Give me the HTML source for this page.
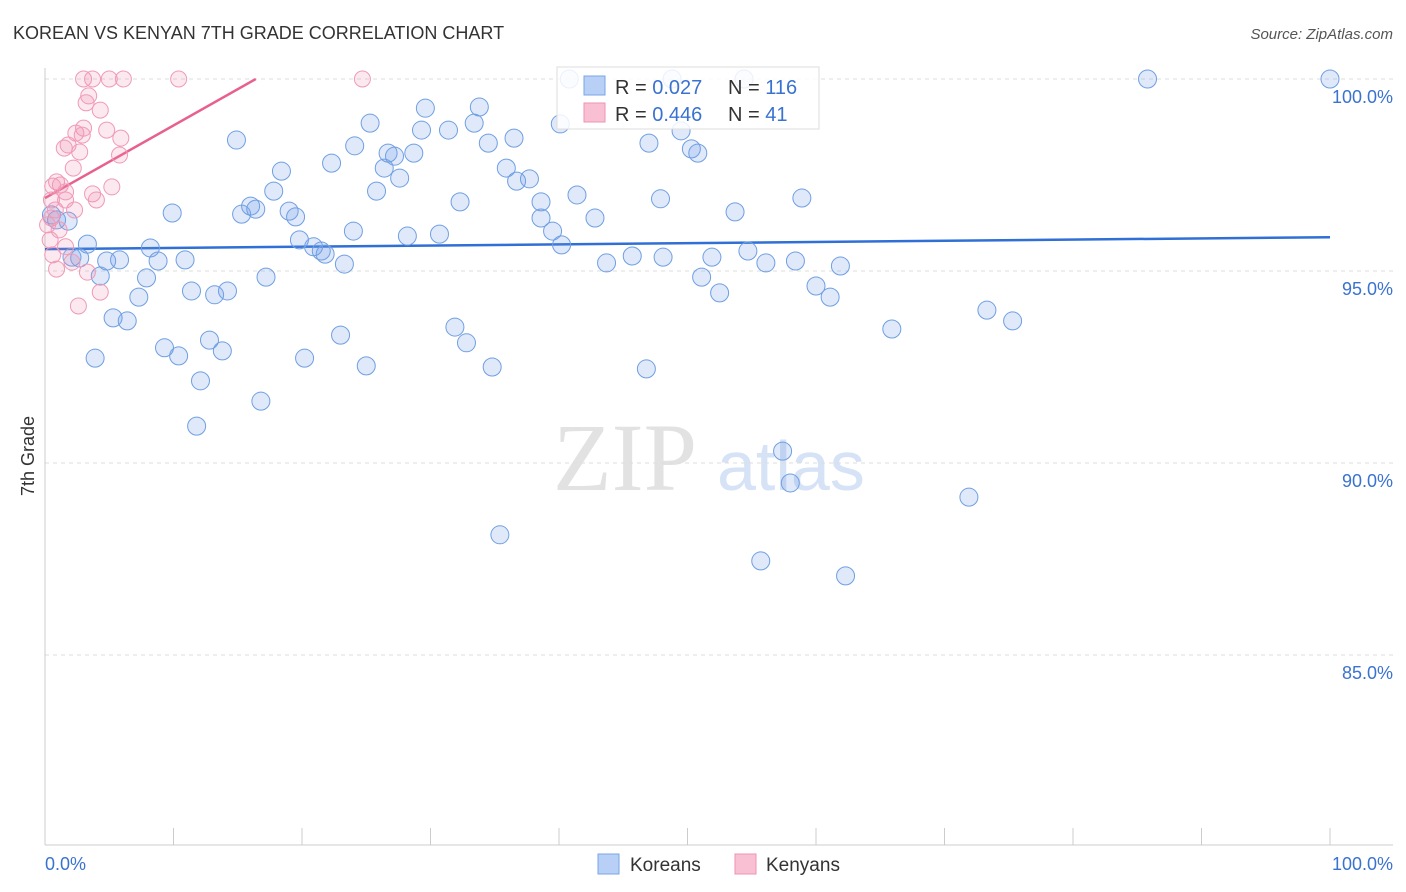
<!DOCTYPE html>
<html><head><meta charset="utf-8"><style>
body{margin:0;background:#fff;font-family:"Liberation Sans",sans-serif;}
svg{display:block}
</style></head><body>
<svg id="chart" width="1406" height="892">
<text x="13" y="39" font-size="18" fill="#333">KOREAN VS KENYAN 7TH GRADE CORRELATION CHART</text>
<text x="1393" y="39" font-size="15" fill="#555" font-style="italic" text-anchor="end">Source: ZipAtlas.com</text>
<g>
<text x="553" y="490" font-size="96" font-family="Liberation Serif,serif" fill="#e2e2e2">ZIP</text>
<text x="717" y="490" font-size="70" fill="#d6e2f5">atlas</text>
</g>
<g id="grid"></g><g id="axes"></g><g id="trends"></g><g id="points"></g>
<g>
<rect x="557" y="67" width="262" height="62" fill="#fff" fill-opacity="0.85" stroke="#ddd"/>
<rect x="584" y="76" width="21" height="19" fill="#b8d0f5" stroke="#7aa4e6"/>
<rect x="584" y="103" width="21" height="19" fill="#f8c0d2" stroke="#ee93b2"/>
<text x="615" y="94" font-size="20" fill="#333">R = <tspan fill="#3a72d0">0.027</tspan></text>
<text x="728" y="94" font-size="20" fill="#333">N = <tspan fill="#3a72d0">116</tspan></text>
<text x="615" y="121" font-size="20" fill="#333">R = <tspan fill="#3a72d0">0.446</tspan></text>
<text x="728" y="121" font-size="20" fill="#333">N = <tspan fill="#3a72d0"> 41</tspan></text>
</g>
<g>
<rect x="598" y="854" width="21" height="20" fill="#b8d0f5" stroke="#7aa4e6"/>
<text x="630" y="871" font-size="19" fill="#333">Koreans</text>
<rect x="735" y="854" width="21" height="20" fill="#f8c0d2" stroke="#ee93b2"/>
<text x="766" y="871" font-size="19" fill="#333">Kenyans</text>
</g>
<text x="34" y="456" font-size="18" fill="#333" text-anchor="middle" transform="rotate(-90 34 456)">7th Grade</text>
</svg>
<script>
const blueX=[100,85.8,54.4,48.8,40.8,14.9,29.6,33.8,25.3,33.4,29.3,31.4,40.1,36.5,34.5,24.1,26.7,27.2,28.7,22.3,18.4,26.4,35.9,27.6,36.7,37.7,25.8,17.8,32.3,41.4,38.6,38.6,42.8,16.0,16.4,15.3,9.9,19.0,19.5,39.5,24.0,28.2,30.7,19.8,20.9,21.5,21.8,40.2,1.8,0.9,0.5,3.3,8.2,2.7,2.1,4.8,5.8,8.8,10.9,23.3,17.2,7.9,4.3,11.4,7.3,13.2,14.2,5.3,6.4,9.3,10.4,3.9,12.8,13.8,20.2,23.0,25.0,31.9,32.8,34.8,12.1,16.8,11.8,49.5,47.0,50.3,50.8,47.9,53.7,58.9,43.7,45.7,48.1,51.9,54.7,56.1,58.4,61.9,51.1,52.5,60.0,61.1,65.9,73.3,75.3,46.8,57.4,58.0,71.9,35.4,55.7,62.3];
const blueY=[100,100,100,100,100,98.41,99.24,99.27,98.85,98.85,98.67,98.67,98.83,98.46,98.33,98.26,98.07,97.99,98.07,97.81,97.60,97.68,97.68,97.42,97.34,97.40,97.08,97.08,96.80,96.98,96.80,96.38,96.38,96.69,96.61,96.48,96.51,96.56,96.41,96.04,96.04,95.91,95.96,95.81,95.63,95.52,95.44,95.68,96.30,96.33,96.46,95.70,95.60,95.34,95.36,95.26,95.29,95.26,95.29,95.18,94.84,94.82,94.87,94.48,94.32,94.38,94.48,93.78,93.70,93.00,92.79,92.73,93.20,92.92,92.73,93.33,92.53,93.54,93.13,92.50,92.14,91.61,90.96,98.65,98.33,98.18,98.07,96.88,96.54,96.90,95.21,95.39,95.36,95.36,95.52,95.21,95.26,95.13,94.84,94.43,94.61,94.32,93.49,93.98,93.70,92.45,90.31,89.48,89.11,88.13,87.45,87.06];
const pinkX=[3.0,3.7,5.0,6.1,10.4,24.7,3.4,3.2,4.3,3.0,4.8,2.4,2.9,5.9,1.8,1.5,2.7,5.8,2.2,0.9,1.2,0.6,1.6,5.2,3.7,4.0,2.3,0.5,1.1,0.4,1.6,0.6,2.1,0.9,3.3,4.3,2.6,0.5,0.2,0.8,1.6];
const pinkY=[100,100,100,100,100,100,99.56,99.38,99.19,98.72,98.67,98.59,98.54,98.46,98.28,98.20,98.10,98.02,97.68,97.32,97.24,97.21,97.06,97.19,97.01,96.85,96.59,96.38,96.07,95.81,95.63,95.42,95.23,95.05,94.97,94.45,94.09,96.85,96.20,96.59,96.85];
const blueTrend=[95.57,95.88];
const pinkTrend=[96.90,0.189];
const yTicks=[100,95,90,85];
const yTickLabels=["100.0%","95.0%","90.0%","85.0%"];
const xTicks=[0,10,20,30,40,50,60,70,80,90,100];
const xTickLabels=["0.0%","100.0%"];
const NS="http://www.w3.org/2000/svg";
const sx=v=>45+v*12.85, sy=v=>79+(100-v)*38.4;
function mk(tag,attrs,parent){const e=document.createElementNS(NS,tag);for(const k in attrs)e.setAttribute(k,attrs[k]);parent.appendChild(e);return e;}
const grid=document.getElementById('grid'),axes=document.getElementById('axes'),tr=document.getElementById('trends'),pts=document.getElementById('points');
yTicks.forEach((t,i)=>{
 const l=mk('line',{x1:45,x2:1393,y1:sy(t),y2:sy(t),stroke:'#ddd','stroke-dasharray':'4 4'},grid);
 
 
 const tx=mk('text',{x:1393,y:sy(t)+24,'font-size':18,fill:'#3a72d0','text-anchor':'end'},axes);
 tx.textContent=yTickLabels[i];
 
 
});
const ya=mk('line',{x1:45,x2:45,y1:68,y2:845,stroke:'#ccc'},axes);


const xa=mk('line',{x1:45,x2:1393,y1:845,y2:845,stroke:'#ccc'},axes);


xTicks.forEach(t=>{
 const l=mk('line',{x1:sx(t),x2:sx(t),y1:828,y2:845,stroke:'#ccc'},axes);
 
 
});
const xl0=mk('text',{x:45,y:870,'font-size':18,fill:'#3a72d0'},axes);xl0.textContent=xTickLabels[0];


const xl1=mk('text',{x:1393,y:870,'font-size':18,fill:'#3a72d0','text-anchor':'end'},axes);xl1.textContent=xTickLabels[1];


blueX.forEach((x,i)=>{
 const c=mk('circle',{cx:sx(x),cy:sy(blueY[i]),r:9,fill:'rgba(110,155,230,0.22)',stroke:'#6f9fe2','stroke-width':1},pts);
 
 
});
pinkX.forEach((x,i)=>{
 const c=mk('circle',{cx:sx(x),cy:sy(pinkY[i]),r:8,fill:'rgba(240,140,175,0.2)',stroke:'#f09ab8','stroke-width':1},pts);
 
 
});
const bl=mk('line',{x1:sx(0),y1:sy(blueTrend[0]),x2:sx(100),y2:sy(blueTrend[1]),stroke:'#2f6fd6','stroke-width':2.5},tr);


const xEnd=Math.min(100,(100-pinkTrend[0])/pinkTrend[1]);
const pl=mk('line',{x1:sx(0),y1:sy(pinkTrend[0]),x2:sx(xEnd),y2:sy(pinkTrend[0]+pinkTrend[1]*xEnd),stroke:'#e8608c','stroke-width':2.5},tr);


</script>
</body></html>
